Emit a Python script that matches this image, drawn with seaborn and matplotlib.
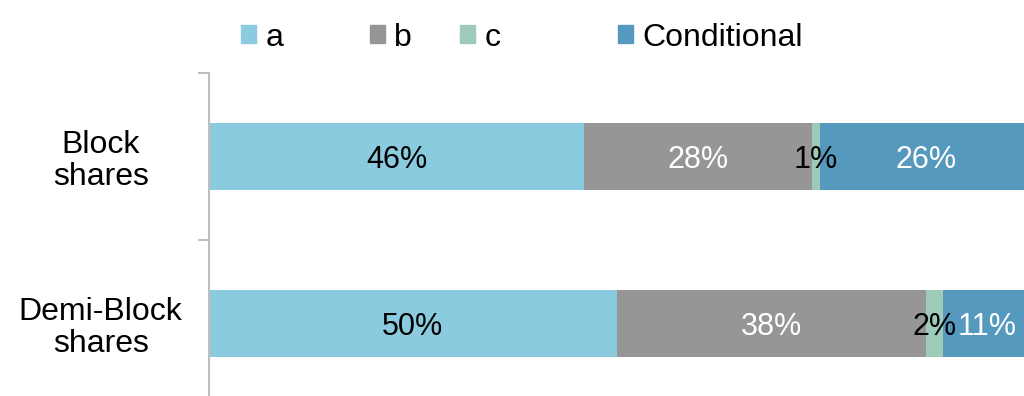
import numpy as np
import pandas as pd
import matplotlib
matplotlib.use("Agg")
import matplotlib.pyplot as plt
import seaborn as sns

sns.set_style("white")
plt.rcParams['font.family'] = ['Liberation Sans', 'DejaVu Sans']
plt.rcParams['text.color'] = 'black'
plt.rcParams['ytick.color'] = 'black'

categories = ["Block\nshares", "Demi-Block\nshares"]
series = ["a", "b", "c", "Conditional"]
a_vals = [46, 50]
b_vals = [28, 38]
c_vals = [1, 2]
cond_vals = [26, 11]
colors = ["#8BCBDF", "#969696", "#9DCAB9", "#5599BE"]
text_colors = ["black", "white", "black", "white"]
legend_x = [241, 370, 460, 618]  # left edge of each legend key, px

values = [a_vals, b_vals, c_vals, cond_vals]
cum = np.cumsum(np.array(values), axis=0)

fig = plt.figure(figsize=(10.24, 3.96), dpi=100)
ax = fig.add_axes([209 / 1024, -11 / 396, 815 / 1024, 334 / 396])

# stacked bars: draw cumulative totals, largest first
for i in range(len(series) - 1, -1, -1):
    df = pd.DataFrame({"cat": categories, "val": cum[i]})
    sns.barplot(data=df, x="val", y="cat", color=colors[i], width=0.4,
                saturation=1, ax=ax, orient="h", linewidth=0)

for i in range(len(series)):
    for j in range(len(categories)):
        left = cum[i][j] - values[i][j]
        ax.text(left + values[i][j] / 2, j, f"{values[i][j]}%", ha="center",
                va="center_baseline", fontsize=22, color=text_colors[i])

ax.set_xlim(0, 100)
ax.set_ylim(1.5, -0.5)
ax.set_xlabel("")
ax.set_ylabel("")
ax.set_xticks([])
ax.set_yticks([0, 1])
ax.set_yticklabels(categories, fontsize=23, linespacing=1.1, ha="center")
ax.tick_params(axis="y", which="major", length=0, pad=78)
ax.set_yticks([-0.5, 0.5, 1.5], minor=True)
ax.tick_params(axis="y", which="minor", left=True, length=8, color="#BFBFBF", width=1.5)
for s in ["top", "right", "bottom"]:
    ax.spines[s].set_visible(False)
ax.spines["left"].set_color("#BFBFBF")
ax.spines["left"].set_linewidth(1.5)

for i in range(len(series)):
    h = plt.Rectangle((0, 0), 1, 1, color=colors[i])
    leg = fig.legend([h], [series[i]], loc="center left",
                     bbox_to_anchor=(legend_x[i] / 1024, 0.905), frameon=False,
                     fontsize=23, handlelength=0.48, handleheight=0.48,
                     handletextpad=0.28, borderpad=0, borderaxespad=0)

fig.savefig("out.png", dpi=100)
